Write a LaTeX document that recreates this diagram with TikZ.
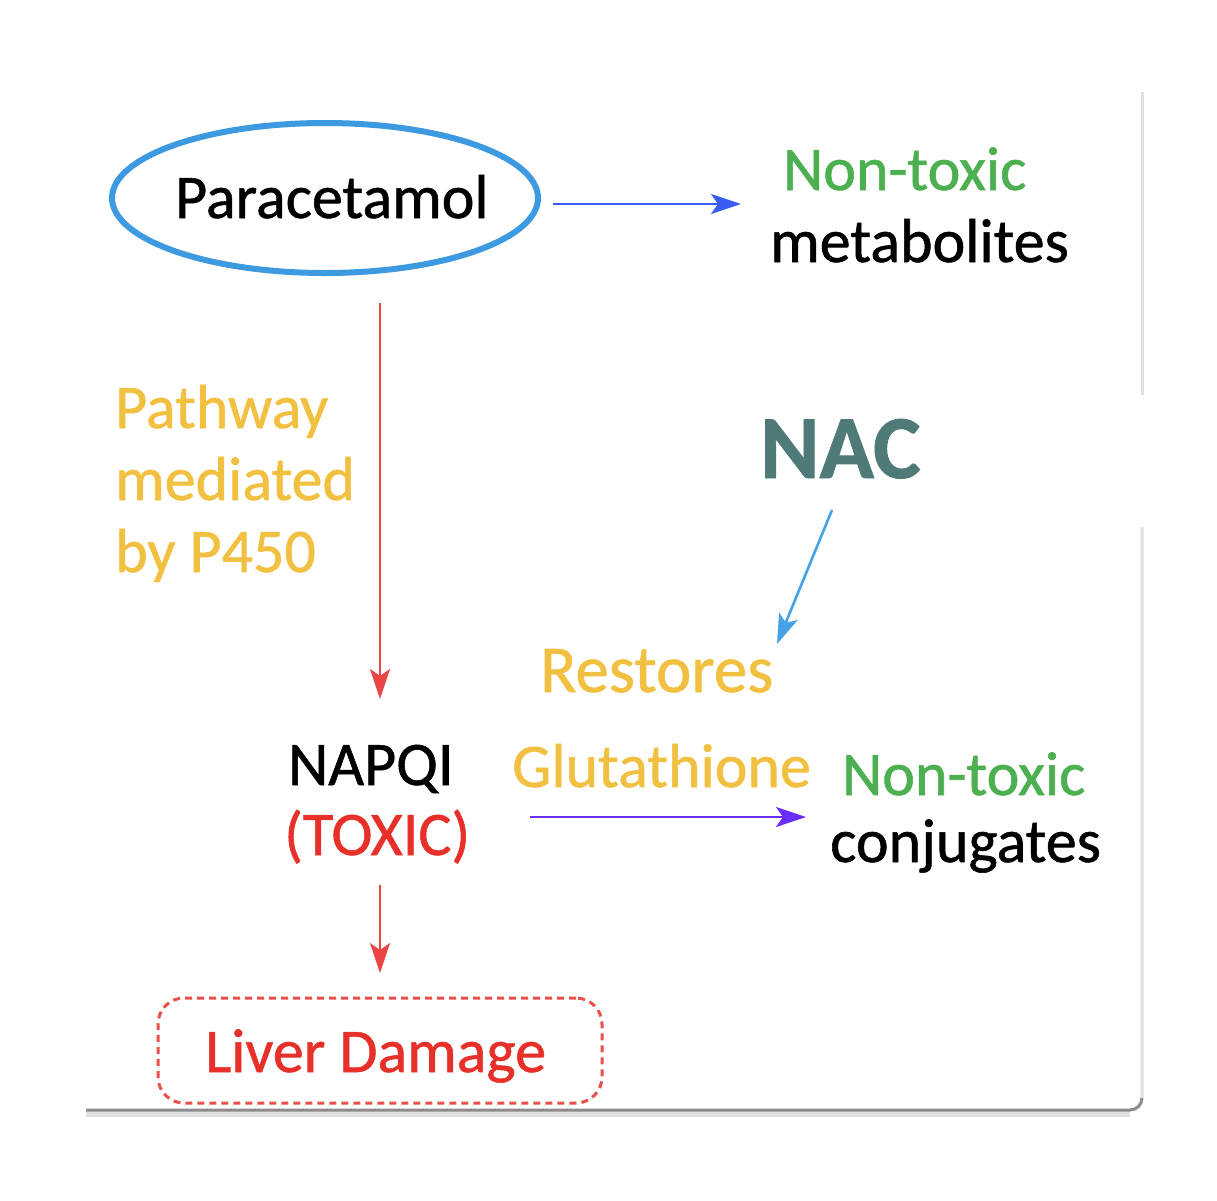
\documentclass[tikz,border=0pt]{standalone}
\usepackage{fontspec}
\setmainfont{Carlito}[FakeBold=0.9]
\usetikzlibrary{arrows.meta,shapes.geometric}
\definecolor{ellblue}{HTML}{3D9AE0}
\definecolor{arrblue}{HTML}{3A5CF5}
\definecolor{nacblue}{HTML}{45A2E6}
\definecolor{ntgreen}{HTML}{4CAF50}
\definecolor{gold}{HTML}{F2C040}
\definecolor{toxred}{HTML}{E8302A}
\definecolor{arrred}{HTML}{EA4646}
\definecolor{nacteal}{HTML}{4E7A78}
\definecolor{purp}{HTML}{6A2EFA}
\tikzset{
  txt/.style={inner sep=0pt, anchor=base west, font=\fontsize{62}{72}\selectfont},
  conn/.style={line width=2.6pt, -{Stealth[length=30pt,width=20pt,inset=7pt]}},
}
\begin{document}
\begin{tikzpicture}[x=1pt,y=-1pt]
\useasboundingbox (0,0) rectangle (1217,1200);
% frame
\draw[line width=3pt, black!12] (1142,92) -- (1142,395);
\draw[line width=3pt, black!12] (1142,527) -- (1142,1098) arc (0:90:12);
\draw[line width=6pt, black!12] (86,1114) -- (1130,1114);
\draw[line width=3pt, black!45] (86,1110) -- (1130,1110) arc (90:0:12) -- (1142,1098);
% ellipse
\node[ellipse, draw=ellblue, line width=6pt, minimum width=426pt, minimum height=150pt, inner sep=0pt] (para) at (325,198) {};
\node[txt, text=black] (paratxt) at (175,218) {Paracetamol};
% top right
\node[txt, text=ntgreen] (nt1) at (783,190) {Non-toxic};
\node[txt, text=black] (met) at (770,262) {metabolites};
% pathway
\node[txt, text=gold] (pw1) at (115,428) {Pathway};
\node[txt, text=gold] (pw2) at (115,500) {mediated};
\node[txt, text=gold] (pw3) at (115,572) {by P450};
% NAC
\node[txt, text=nacteal, font=\fontsize{90}{100}\selectfont\bfseries] (nac) at (760,478) {NAC};
\node[txt, text=gold, font=\fontsize{67}{76}\selectfont] (rest) at (540,692) {Restores};
\node[txt, text=gold] (glu) at (512,787) {Glutathione};
% NAPQI
\node[txt, text=black] (napqi) at (288,785) {NAPQI};
\node[txt, text=toxred] (toxic) at (284,855) {(TOXIC)};
% bottom right
\node[txt, text=ntgreen] (nt2) at (842,795) {Non-toxic};
\node[txt, text=black] (conj) at (830,862) {conjugates};
% liver damage
\node[draw=toxred!85, dashed, dash pattern=on 7pt off 5pt, line width=3pt, rounded corners=26pt, minimum width=444pt, minimum height=105pt, inner sep=0pt] (liverbox) at (380,1050.5) {};
\node[txt, text=toxred] (liver) at (205,1072) {Liver Damage};
% connectors
\coordinate (a1s) at (553,204);
\coordinate (a1e) at (741,204);
\coordinate (a2s) at (380,303);
\coordinate (a2e) at (380,699);
\coordinate (a3s) at (380,885);
\coordinate (a3e) at (380,973);
\coordinate (a4s) at (832,510);
\coordinate (a4e) at (777,644);
\coordinate (a5s) at (530,817);
\coordinate (a5e) at (806,817);
\draw[conn, arrblue] (a1s) -- (a1e);
\draw[conn, arrred] (a2s) -- (a2e);
\draw[conn, arrred] (a3s) -- (a3e);
\draw[conn, nacblue] (a4s) -- (a4e);
\draw[conn, purp] (a5s) -- (a5e);
\end{tikzpicture}
\end{document}
